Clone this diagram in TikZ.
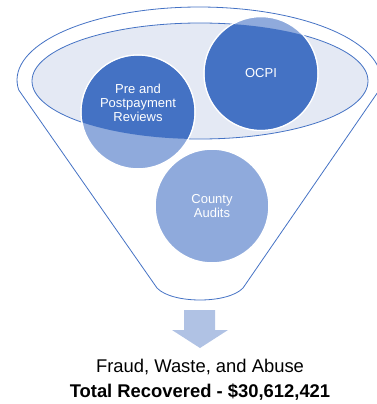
\documentclass[tikz,border=0pt]{standalone}
\usepackage{fontspec}
\setmainfont{Liberation Sans}
\definecolor{fblue}{HTML}{4472C4}
\definecolor{flight}{HTML}{8FAADC}
\definecolor{fpale}{HTML}{E4E9F4}
\definecolor{farrow}{HTML}{B0C2E4}
\begin{document}
\begin{tikzpicture}[x=1pt,y=-1pt,
  bubble/.style={circle, minimum size=114pt, inner sep=0pt, draw=white, line width=1.5pt, fill=flight},
  bubbletext/.style={text=white, font=\fontsize{13}{14}\selectfont, align=center, inner sep=0pt},
  outline/.style={draw=fblue, line width=0.8pt}]
\useasboundingbox (0,0) rectangle (377,404);
% funnel outline
\coordinate (rk) at (379.3,90);
\coordinate (lk) at (18.7,90);
\coordinate (bl) at (157,288);
\coordinate (br) at (243,288);
\draw[outline] (rk) arc[start angle=7.87, end angle=-187.87, x radius=182, y radius=73] -- (bl)
  .. controls (172,304) and (228,304) .. (br) -- cycle;
% inner rim
\fill[fpale] (200,81) ellipse[x radius=168, y radius=58];
\draw[outline] (200,81) ellipse[x radius=168, y radius=58];
% bubbles
\node[bubble] (pre) at (138,112) {};
\node[bubble] (ocpi) at (261,73.5) {};
\node[bubble, bubbletext] (county) at (212,206) {County\\Audits};
\begin{scope}
  \clip (200,81) ellipse[x radius=168, y radius=58];
  \fill[fblue] (pre.center) circle[radius=56.2];
  \fill[fblue] (ocpi.center) circle[radius=56.2];
\end{scope}
\node[bubbletext] (pretxt) at (138,103) {Pre and\\Postpayment\\Reviews};
\node[bubbletext] (ocpitxt) at (261,73.5) {OCPI};
% arrow
\fill[farrow] (184,310) -- (215,310) -- (215,330) -- (228,330) -- (200,348) -- (172,330) -- (184,330) -- cycle;
% result text
\node[anchor=base, inner sep=0pt, font=\fontsize{18.4}{22}\selectfont] (fwa) at (200,372.7) {Fraud, Waste, and Abuse};
\node[anchor=base, inner sep=0pt, font=\fontsize{18.4}{22}\selectfont\bfseries] (total) at (200,397.3) {Total Recovered - \$30,612,421};
\end{tikzpicture}
\end{document}
